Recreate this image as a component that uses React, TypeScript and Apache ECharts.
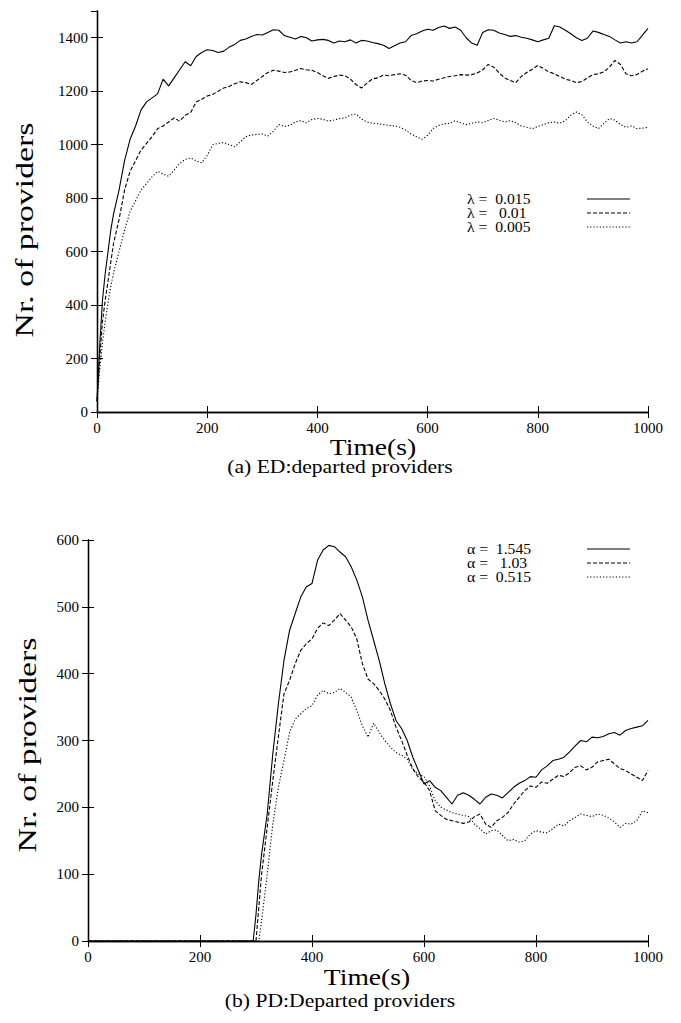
import React, { useEffect, useRef } from "react";
import * as echarts from "echarts";

// ---- Data (a) ED: departed providers, time in seconds ----
const edTime = [0, 5, 10, 15, 20, 25, 30, 40, 50, 60, 70, 80, 90, 100, 110, 120, 130, 140, 150, 160, 170, 180, 190, 200, 210, 220, 230, 240, 250, 260, 270, 280, 290, 300, 310, 320, 330, 340, 350, 360, 370, 380, 390, 400, 410, 420, 430, 440, 450, 460, 470, 480, 490, 500, 510, 520, 530, 540, 550, 560, 570, 580, 590, 600, 610, 620, 630, 640, 650, 660, 670, 680, 690, 700, 710, 720, 730, 740, 750, 760, 770, 780, 790, 800, 810, 820, 830, 840, 850, 860, 870, 880, 890, 900, 910, 920, 930, 940, 950, 960, 970, 980, 990, 1000];
const edLambda015 = [40, 250, 420, 520, 600, 680, 740, 830, 940, 1020, 1070, 1130, 1160, 1175, 1190, 1245, 1220, 1250, 1280, 1310, 1295, 1330, 1345, 1355, 1352, 1345, 1350, 1365, 1375, 1390, 1395, 1405, 1412, 1410, 1420, 1430, 1428, 1408, 1402, 1395, 1405, 1400, 1388, 1392, 1394, 1390, 1380, 1388, 1385, 1392, 1380, 1390, 1388, 1382, 1378, 1372, 1360, 1370, 1380, 1385, 1408, 1415, 1425, 1432, 1428, 1438, 1444, 1435, 1440, 1428, 1400, 1380, 1372, 1420, 1430, 1428, 1418, 1412, 1405, 1408, 1402, 1398, 1392, 1385, 1392, 1398, 1445, 1440, 1428, 1415, 1400, 1390, 1398, 1425, 1420, 1412, 1405, 1392, 1380, 1385, 1380, 1385, 1410, 1435];
const edLambda01 = [40, 200, 340, 420, 490, 560, 630, 720, 830, 900, 940, 980, 1005, 1030, 1060, 1070, 1085, 1100, 1088, 1110, 1120, 1160, 1170, 1182, 1188, 1200, 1212, 1218, 1228, 1235, 1232, 1225, 1240, 1255, 1270, 1278, 1275, 1270, 1272, 1278, 1285, 1280, 1278, 1270, 1258, 1248, 1255, 1260, 1258, 1245, 1225, 1212, 1230, 1246, 1250, 1260, 1258, 1262, 1265, 1260, 1240, 1232, 1238, 1240, 1238, 1245, 1250, 1255, 1258, 1262, 1260, 1262, 1268, 1280, 1300, 1290, 1268, 1250, 1240, 1232, 1255, 1270, 1282, 1296, 1285, 1272, 1265, 1255, 1245, 1240, 1232, 1236, 1250, 1262, 1265, 1272, 1290, 1315, 1300, 1265, 1258, 1262, 1275, 1284];
const edLambda005 = [40, 160, 260, 340, 410, 470, 520, 600, 680, 750, 790, 830, 855, 880, 900, 890, 882, 905, 930, 945, 950, 940, 932, 960, 1000, 1005, 1008, 1000, 992, 1010, 1030, 1036, 1038, 1040, 1032, 1050, 1075, 1068, 1072, 1085, 1090, 1082, 1094, 1098, 1095, 1088, 1092, 1098, 1100, 1110, 1115, 1096, 1085, 1080, 1078, 1075, 1072, 1070, 1065, 1055, 1040, 1030, 1020, 1035, 1060, 1072, 1078, 1080, 1090, 1082, 1075, 1080, 1085, 1082, 1090, 1098, 1092, 1085, 1090, 1082, 1070, 1065, 1060, 1068, 1075, 1082, 1085, 1080, 1090, 1110, 1122, 1112, 1085, 1070, 1060, 1080, 1098, 1092, 1075, 1065, 1070, 1060, 1062, 1065];

// ---- Data (b) PD: Departed providers ----
const pdTime = [0, 100, 200, 290, 295, 300, 305, 310, 320, 330, 340, 350, 360, 370, 380, 390, 400, 410, 420, 430, 440, 450, 460, 470, 480, 490, 500, 510, 520, 530, 540, 550, 560, 570, 580, 590, 600, 610, 620, 630, 640, 650, 660, 670, 680, 690, 700, 710, 720, 730, 740, 750, 760, 770, 780, 790, 800, 810, 820, 830, 840, 850, 860, 870, 880, 890, 900, 910, 920, 930, 940, 950, 960, 970, 980, 990, 1000];
const pdAlpha1545 = [0, 0, 0, 0, 0, 40, 90, 130, 190, 280, 355, 420, 465, 490, 515, 530, 535, 570, 585, 592, 590, 582, 575, 560, 540, 515, 480, 450, 420, 385, 355, 330, 318, 300, 275, 255, 235, 240, 230, 225, 215, 205, 218, 222, 218, 212, 205, 215, 220, 218, 214, 222, 230, 236, 240, 246, 245, 256, 262, 270, 272, 275, 283, 292, 300, 298, 305, 304, 306, 310, 312, 308, 315, 318, 320, 322, 330];
const pdAlpha103 = [0, 0, 0, 0, 0, 0, 50, 100, 170, 240, 306, 370, 390, 415, 435, 445, 452, 468, 476, 472, 480, 490, 480, 470, 452, 415, 392, 385, 375, 362, 345, 320, 300, 278, 258, 245, 238, 225, 195, 188, 182, 180, 178, 176, 178, 186, 190, 175, 170, 180, 185, 192, 205, 215, 225, 232, 230, 238, 236, 242, 248, 246, 252, 260, 262, 256, 260, 268, 270, 272, 265, 258, 255, 250, 245, 240, 255];
const pdAlpha0515 = [0, 0, 0, 0, 0, 0, 0, 30, 100, 175, 230, 270, 312, 332, 340, 348, 352, 368, 375, 370, 372, 378, 372, 365, 345, 322, 305, 326, 312, 300, 290, 282, 278, 272, 256, 250, 246, 232, 210, 200, 196, 192, 190, 188, 186, 175, 168, 160, 165, 166, 158, 150, 152, 148, 150, 160, 165, 163, 162, 168, 175, 172, 180, 185, 190, 188, 186, 190, 188, 184, 178, 170, 176, 175, 180, 195, 192];

const edNames = ["λ =  0.015", "λ =   0.01", "λ =  0.005"];
const pdNames = ["α =  1.545", "α =   1.03", "α =  0.515"];
const yTicksED = { min: 0, max: 1500, interval: 200 };
const yTicksPD = { min: 0, max: 600, interval: 100 };
const xTicks = { min: 0, max: 1000, interval: 200 };

const SERIF = "Liberation Serif";
const dashStyles: any[] = ["solid", [4, 2], [1.2, 2]];

function zip(xs: number[], ys: number[]) {
  return xs.map((x, i) => [x, ys[i]]);
}

export default function App() {
  const ref = useRef<HTMLDivElement>(null);
  useEffect(() => {
    document.body.style.margin = "0";
    const chart = echarts.init(ref.current!, null, { renderer: "svg" });

    const grids = [
      { left: 97, top: 11, width: 551, height: 401 },
      { left: 88, top: 540, width: 560, height: 401 },
    ];

    const axisLine = { show: true, lineStyle: { color: "#000", width: 1.3 } };
    const tickIn = { show: true, inside: true, length: 6, lineStyle: { color: "#000", width: 1 } };
    const lbl = { color: "#000", fontFamily: SERIF, fontSize: 15, formatter: (v: number) => String(v) };

    const xAxes: any[] = [];
    const yAxes: any[] = [];
    [0, 1].forEach((g) => {
      xAxes.push({
        type: "value", gridIndex: g, ...xTicks, position: "bottom",
        axisLine, axisTick: tickIn, splitLine: { show: false },
        axisLabel: { ...lbl, margin: 8 },
      });
      xAxes.push({
        type: "value", gridIndex: g, ...xTicks, position: "top",
        axisLine, axisTick: tickIn, splitLine: { show: false },
        axisLabel: { show: false },
      });
      const yt = g === 0 ? yTicksED : yTicksPD;
      yAxes.push({
        type: "value", gridIndex: g, ...yt, position: "left",
        axisLine, axisTick: tickIn, splitLine: { show: false },
        axisLabel: { ...lbl, margin: 9, showMaxLabel: g === 1 },
      });
      yAxes.push({
        type: "value", gridIndex: g, ...yt, position: "right",
        axisLine, axisTick: tickIn, splitLine: { show: false },
        axisLabel: { show: false },
      });
    });

    const mk = (name: string, xs: number[], ys: number[], g: number, k: number) => ({
      type: "line", name, data: zip(xs, ys), xAxisIndex: g * 2, yAxisIndex: g * 2,
      showSymbol: false, symbol: "none",
      lineStyle: { color: "#000", width: 1.1, type: dashStyles[k] },
    });

    const series = [
      mk(edNames[0], edTime, edLambda015, 0, 0),
      mk(edNames[1], edTime, edLambda01, 0, 1),
      mk(edNames[2], edTime, edLambda005, 0, 2),
      mk(pdNames[0], pdTime, pdAlpha1545, 1, 0),
      mk(pdNames[1], pdTime, pdAlpha103, 1, 1),
      mk(pdNames[2], pdTime, pdAlpha0515, 1, 2),
    ];

    const txt = (text: string, x: number, y: number, size: number, extra: any = {}) => ({
      type: "text", x, y, ...extra,
      style: {
        text, fontSize: size, fontFamily: SERIF, fill: "#000",
        align: "center", verticalAlign: "middle",
      },
    });

    const legendItems = (names: string[], top: number) => {
      const out: any[] = [];
      names.forEach((n, i) => {
        const y = top + i * 14;
        out.push({
          type: "text", x: 467, y, scaleX: 1.12,
          style: { text: n, fontSize: 14, fontFamily: SERIF, fill: "#000", align: "left", verticalAlign: "middle" },
        });
        out.push({
          type: "line", shape: { x1: 587, y1: y, x2: 630, y2: y },
          style: { stroke: "#000", lineWidth: 1.1, lineDash: i === 0 ? null : (dashStyles[i] as number[]) },
        });
      });
      return out;
    };

    const graphic: any[] = [
      txt("Nr. of providers", 24, 230, 26, { rotation: Math.PI / 2, scaleX: 1.3 }),
      txt("Time(s)", 373, 447, 23, { scaleX: 1.2 }),
      txt("(a) ED:departed providers", 340, 467, 18, { scaleX: 1.2 }),
      txt("Nr. of providers", 27, 745, 26, { rotation: Math.PI / 2, scaleX: 1.3 }),
      txt("Time(s)", 367, 977, 23, { scaleX: 1.2 }),
      txt("(b) PD:Departed providers", 340, 1001, 18, { scaleX: 1.2 }),
      ...legendItems(edNames, 199),
      ...legendItems(pdNames, 549),
    ];

    chart.setOption({
      animation: false,
      backgroundColor: "#fff",
      grid: grids,
      xAxis: xAxes,
      yAxis: yAxes,
      series,
      graphic,
    });
    return () => chart.dispose();
  }, []);
  return <div ref={ref} style={{ width: 681, height: 1023 }} />;
}
